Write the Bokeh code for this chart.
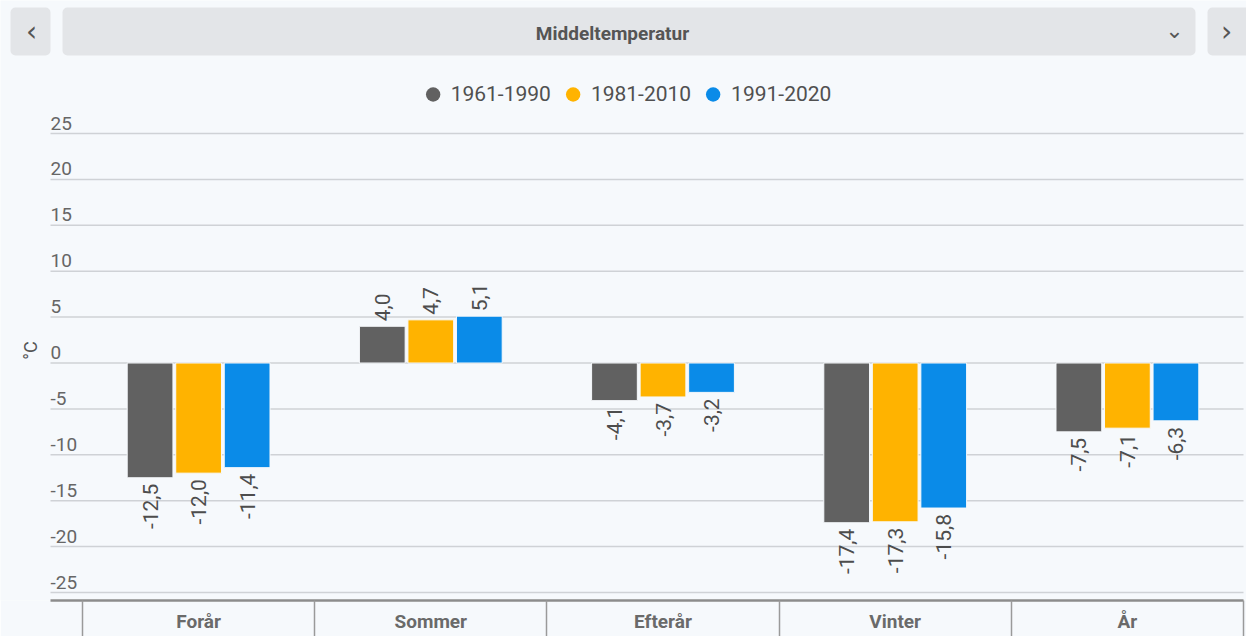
import math
from bokeh.plotting import figure
from bokeh.models import ColumnDataSource, Range1d, FixedTicker, Legend, LegendItem
from bokeh.core.properties import value
from bokeh.embed import file_html
from bokeh.resources import INLINE

# ---------------- data ----------------
categories = ["Forår", "Sommer", "Efterår", "Vinter", "År"]
series_names = ["1961-1990", "1981-2010", "1991-2020"]
s1961_1990 = [-12.5, 4.0, -4.1, -17.4, -7.5]
s1981_2010 = [-12.0, 4.7, -3.7, -17.3, -7.1]
s1991_2020 = [-11.4, 5.1, -3.2, -15.8, -6.3]
y_ticks = [-25, -20, -15, -10, -5, 0, 5, 10, 15, 20, 25]
title_text = "Middeltemperatur"
y_unit = "°C"

series_values = [s1961_1990, s1981_2010, s1991_2020]
colors = ["#616161", "#FFB300", "#0A8BE8"]
offsets = [-0.209, 0.0, 0.209]

FONT = "Roboto"
BG = "#F6F9FC"

# ---------------- layout geometry (pixels -> data) ----------------
W, FRAME_H, BOTTOM = 1246, 600, 36
CAT_PX, X0_PX = 232.2, 82.0
UNIT_PX, Y0_PX = 9.18, 362.5


def px2x(px):
    return (px - X0_PX) / CAT_PX


def px2y(py):
    return (Y0_PX - py) / UNIT_PX


x_left = px2x(50)
x_right = float(len(categories))

p = figure(frame_width=W, frame_height=FRAME_H, output_backend="svg", toolbar_location=None,
           x_range=Range1d(px2x(0), px2x(W)), y_range=Range1d(px2y(FRAME_H), px2y(0)),
           y_axis_location=None,
           min_border_left=0, min_border_right=0, min_border_top=0, min_border_bottom=BOTTOM,
           background_fill_color=BG, border_fill_color=BG, outline_line_color=None)
p.xgrid.visible = False
p.ygrid.visible = False

# ---------- header (selector bar) ----------
p.quad(left=[px2x(10), px2x(62), px2x(1207)], right=[px2x(50), px2x(1195), px2x(1252)],
       top=[px2y(7)] * 3, bottom=[px2y(55)] * 3,
       fill_color="#E3E5E8", line_color=None, border_radius=5)
p.text(x=[px2x(612)], y=[px2y(33)], text=[title_text], text_align="center",
       text_baseline="middle", text_font=value(FONT), text_font_size="19px",
       text_color="#555555", text_font_style="bold")
p.text(x=[px2x(31), px2x(1226)], y=[px2y(31)] * 2, text=["‹", "›"], text_align="center",
       text_baseline="middle", text_font=value("DejaVu Sans"), text_font_size="28px",
       text_color="#555555")
p.text(x=[px2x(1174)], y=[px2y(30)], text=["⌄"], text_align="center",
       text_baseline="middle", text_font=value("DejaVu Sans"), text_font_size="22px",
       text_color="#555555")

# ---------- gridlines ----------
p.segment(x0=[x_left] * len(y_ticks), x1=[x_right] * len(y_ticks), y0=y_ticks, y1=y_ticks,
          line_color="#CFD2D6", line_width=1.5)

# ---------- x axis with category boxes ----------
xax = p.xaxis[0]
xax.ticker = FixedTicker(ticks=[i + 0.5 for i in range(len(categories))],
                         minor_ticks=list(range(len(categories) + 1)))
xax.major_label_overrides = {i + 0.5: c for i, c in enumerate(categories)}
xax.bounds = (x_left, x_right + 0.002)
xax.major_tick_line_color = None
xax.major_tick_out = 0
xax.major_tick_in = 0
xax.minor_tick_in = 0
xax.minor_tick_out = BOTTOM + 2
xax.minor_tick_line_color = "#9A9A9A"
xax.minor_tick_line_width = 1.5
xax.axis_line_color = "#8C8C8C"
xax.axis_line_width = 2.5
xax.major_label_standoff = -29
xax.major_label_text_font = FONT
xax.major_label_text_font_size = "19px"
xax.major_label_text_font_style = "bold"
xax.major_label_text_color = "#6a6a6a"

# ---------- bars and value labels ----------
legend_items = []
for name, vals, col, off in zip(series_names, series_values, colors, offsets):
    xs = [i + 0.5 + off for i in range(len(categories))]
    src = ColumnDataSource(dict(
        x=xs, top=vals,
        lbl=[f"{v:.1f}".replace(".", ",") for v in vals],
        align=["left" if v >= 0 else "right" for v in vals],
        yoff=[-5 if v >= 0 else 6 for v in vals],
    ))
    p.vbar(x="x", top="top", bottom=0, width=0.197, source=src,
           fill_color=col, line_color=BG, line_width=1)
    p.text(x="x", y="top", text="lbl", source=src, angle=math.pi / 2,
           text_align="align", y_offset="yoff", text_baseline="middle",
           text_font=value(FONT), text_font_size="21px", text_color="#4d4d4d")
    dummy = p.scatter(x=[-10], y=[-100], marker="circle", size=15, fill_color=col,
                      line_color=None)
    legend_items.append(LegendItem(label=name, renderers=[dummy]))

# ---------- y tick labels inside the plot area above their gridlines ----------
ysrc = ColumnDataSource(dict(x=[x_left] * len(y_ticks), y=y_ticks, t=[str(v) for v in y_ticks]))
p.text(x="x", y="y", text="t", source=ysrc, text_align="left", text_baseline="bottom",
       y_offset=-4, text_font=value(FONT), text_font_size="19px", text_color="#666666")

p.text(x=[px2x(30)], y=[px2y(350)], text=[y_unit], angle=math.pi / 2,
       text_align="center", text_baseline="middle", text_font=value(FONT),
       text_font_size="18px", text_color="#555555")

legend = Legend(items=legend_items, orientation="horizontal", location="top_center",
                background_fill_alpha=0, border_line_color=None, glyph_width=36,
                glyph_height=36, label_standoff=-10, spacing=4, padding=0, margin=76,
                label_text_font=FONT, label_text_font_size="21px", label_text_color="#505050")
p.add_layout(legend)

open("out.html", "w").write(file_html(p, INLINE))
